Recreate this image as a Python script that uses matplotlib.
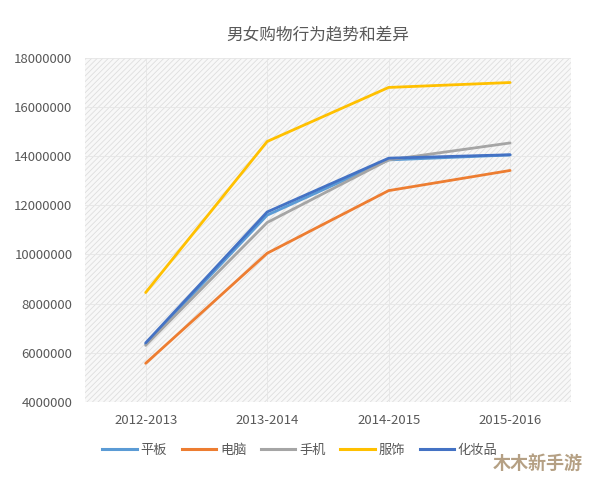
import matplotlib
matplotlib.use("Agg")
import matplotlib.pyplot as plt
from matplotlib.lines import Line2D
from matplotlib.patches import Rectangle

plt.rcParams['font.family'] = ['Noto Sans CJK SC', 'DejaVu Sans']
plt.rcParams['hatch.linewidth'] = 0.6

# data
years = ['2012-2013', '2013-2014', '2014-2015', '2015-2016']
series_names = ['平板', '电脑', '手机', '服饰', '化妆品']
pingban = [6350000, 11600000, 13850000, 14050000]
diannao = [5570000, 10050000, 12600000, 13420000]
shouji = [6300000, 11300000, 13850000, 14540000]
fushi = [8450000, 14600000, 16800000, 17000000]
huazhuangpin = [6400000, 11730000, 13920000, 14060000]
colors = ['#5B9BD5', '#ED7D31', '#A5A5A5', '#FFC000', '#4472C4']
yticks = [4000000, 6000000, 8000000, 10000000, 12000000, 14000000, 16000000, 18000000]

fig = plt.figure(figsize=(5.94, 4.79), dpi=100)
ax = fig.add_axes([0.143, 0.161, 0.818, 0.718])
ax.patch.set_visible(False)
# hatched plot-area background
bg = Rectangle((0, 0), 1, 1, transform=ax.transAxes, facecolor='#f8f8f8',
               edgecolor='#dedede', hatch='//////', lw=0, zorder=-5)
ax.add_patch(bg)

x = list(range(len(years)))
for vals, c in zip([pingban, diannao, shouji, fushi, huazhuangpin], colors):
    ax.plot(x, vals, color=c, lw=2.0, solid_capstyle='round', zorder=3)

ax.set_xlim(-0.5, 3.5)
ax.set_ylim(4000000, 18000000)
ax.set_yticks(yticks)
ax.set_yticklabels([str(v) for v in yticks])
ax.set_xticks(x)
ax.set_xticklabels(years)
ax.tick_params(length=0, colors='#595959', labelsize=9.5)
ax.tick_params(axis='y', pad=9)
ax.tick_params(axis='x', pad=9)
for s in ax.spines.values():
    s.set_visible(False)
ax.grid(True, color='#e6e6e6', lw=0.6, zorder=0)
ax.set_axisbelow(True)

fig.text(0.535, 0.927, '男女购物行为趋势和差异', ha='center', va='center',
         fontsize=12, color='#595959')

handles = [Line2D([0], [0], color=c, lw=2.2) for c in colors]
fig.legend(handles, series_names, loc='center', bbox_to_anchor=(0.505, 0.06),
           ncol=5, frameon=False, fontsize=9.5, handlelength=2.6,
           handletextpad=0.3, columnspacing=1.1, labelcolor='#595959')

fig.text(0.905, 0.032, '木木新手游', ha='center', va='center', fontsize=13,
         fontweight='bold', color='#a8906e', alpha=0.85)

fig.savefig('out.png', dpi=100)
